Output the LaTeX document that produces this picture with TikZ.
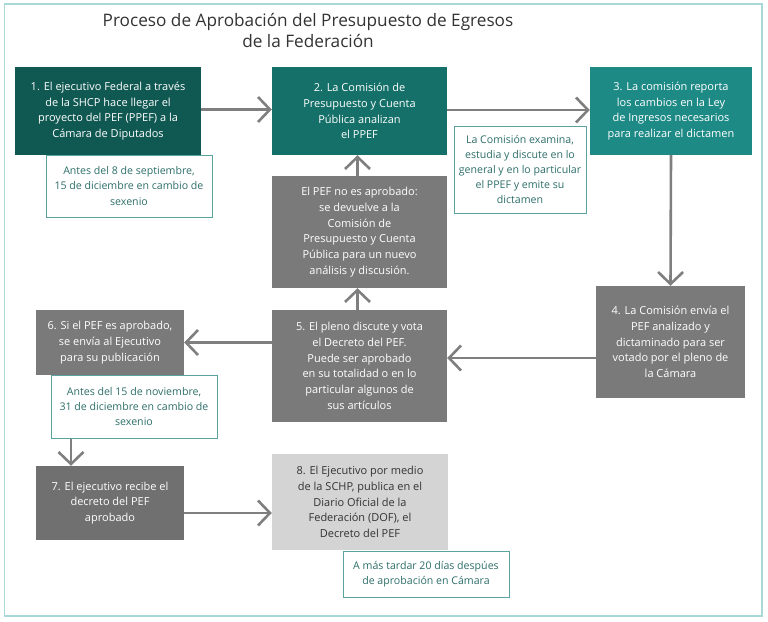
\documentclass[tikz,border=0pt]{standalone}
\usepackage{fontspec}
\setmainfont{Open Sans}
\usetikzlibrary{arrows.meta}
\definecolor{tealA}{HTML}{105852}
\definecolor{tealB}{HTML}{147068}
\definecolor{tealC}{HTML}{1E8A86}
\definecolor{grayBox}{HTML}{7A7A7A}
\definecolor{grayDark}{HTML}{707070}
\definecolor{grayLight}{HTML}{D4D4D4}
\definecolor{arrowGray}{HTML}{7F7F7F}
\definecolor{noteBorder}{HTML}{5AA39E}
\definecolor{noteText}{HTML}{2D6E6A}
\definecolor{frameCol}{HTML}{A8D8D8}
\definecolor{titleCol}{HTML}{333333}
\tikzset{
  box/.style={rectangle, inner sep=0pt, align=center, text=white,
    font=\fontsize{11}{15.7}\selectfont},
  note/.style={rectangle, inner sep=0pt, align=center, text=noteText, fill=white,
    draw=noteBorder, line width=1pt, font=\fontsize{10.6}{15.2}\selectfont},
  arr/.style={draw=arrowGray, line width=2.6pt,
    -{Straight Barb[length=12pt, width=25pt, line width=2.6pt]}}
}
\begin{document}
\begin{tikzpicture}[x=1pt, y=-1pt]
\useasboundingbox (0,0) rectangle (768,621);
\draw[frameCol, line width=1.5pt] (4.5,4) rectangle (762,616);
\node[align=center, text=titleCol, font=\fontsize{17.2}{21}\selectfont] (title) at (308,30.5)
  {Proceso de Aprobación del Presupuesto de Egresos\\de la Federación};
% boxes
\node[box, fill=tealA, minimum width=186pt, minimum height=88pt] (b1) at (108,111)
  {1. El ejecutivo Federal a través\\de la SHCP hace llegar el\\proyecto del PEF (PPEF) a la\\Cámara de Diputados};
\node[box, fill=tealB, minimum width=175pt, minimum height=88pt] (b2) at (359.5,111)
  {2. La Comisión de\\Presupuesto y Cuenta\\Pública analizan\\el PPEF};
\node[box, fill=tealC, minimum width=162pt, minimum height=88pt] (b3) at (671,111)
  {3. La comisión reporta\\los cambios en la Ley\\de Ingresos necesarios\\para realizar el dictamen};
\node[box, fill=grayBox, minimum width=175pt, minimum height=112pt] (bno) at (359.5,232)
  {El PEF no es aprobado:\\se devuelve a la\\Comisión de\\Presupuesto y Cuenta\\Pública para un nuevo\\análisis y discusión.};
\node[box, fill=grayBox, minimum width=175pt, minimum height=112pt] (b5) at (359.5,366)
  {5. El pleno discute y vota\\el Decreto del PEF.\\Puede ser aprobado\\en su totalidad o en lo\\particular algunos de\\sus artículos};
\node[box, fill=grayBox, minimum width=149pt, minimum height=112pt] (b4) at (670.5,342)
  {4. La Comisión envía el\\PEF analizado y\\dictaminado para ser\\votado por el pleno de\\la Cámara};
\node[box, fill=grayBox, minimum width=148pt, minimum height=65pt] (b6) at (110,342.5)
  {6. Si el PEF es aprobado,\\se envía al Ejecutivo\\para su publicación};
\node[box, fill=grayDark, minimum width=148pt, minimum height=74pt] (b7) at (110,503)
  {7. El ejecutivo recibe el\\decreto del PEF\\aprobado};
\node[box, fill=grayLight, text=titleCol, minimum width=176pt, minimum height=96pt] (b8) at (360,502)
  {8. El Ejecutivo por medio\\de la SCHP, publica en el\\Diario Oficial de la\\Federación (DOF), el\\Decreto del PEF};
% notes
\node[note, minimum width=166pt, minimum height=62pt] (n1) at (129,186)
  {Antes del 8 de septiembre,\\15 de diciembre en cambio de\\sexenio};
\node[note, minimum width=132pt, minimum height=87pt] (n2) at (520,169.5)
  {La Comisión examina,\\estudia y discute en lo\\general y en lo particular\\el PPEF y emite su\\dictamen};
\node[note, minimum width=166pt, minimum height=63pt] (n6) at (134,406.5)
  {Antes del 15 de noviembre,\\31 de diciembre en cambio de\\sexenio};
\node[note, minimum width=166pt, minimum height=46pt] (n8) at (426,574)
  {A más tardar 20 días despúes\\de aprobación en Cámara};
% connectors
\draw[arr] ([yshift=1.5pt]b1.east) coordinate (c12) -- (c12 -| b2.west);
\draw[arr] ([yshift=1pt]b2.east) coordinate (c23) -- (c23 -| b3.west);
\draw[arr] (b3.south) -- (b4.north);
\draw[arr] ([yshift=-16pt]b4.west) coordinate (c45) -- (c45 -| b5.east);
\draw[arr] ([xshift=-2pt]b5.north) coordinate (c5n) -- (c5n |- bno.south);
\draw[arr] ([xshift=-2pt]bno.north) coordinate (cn2) -- (cn2 |- b2.south);
\draw[arr] (b5.west |- b6.east) -- (b6.east);
\coordinate (c67) at ([xshift=-39pt]b7.north);
\draw[arr] (c67 |- n6.south) -- (c67);
\coordinate (c78) at ([yshift=-10pt]b7.east);
\draw[arr] (c78) -- (c78 -| b8.west);
\end{tikzpicture}
\end{document}
